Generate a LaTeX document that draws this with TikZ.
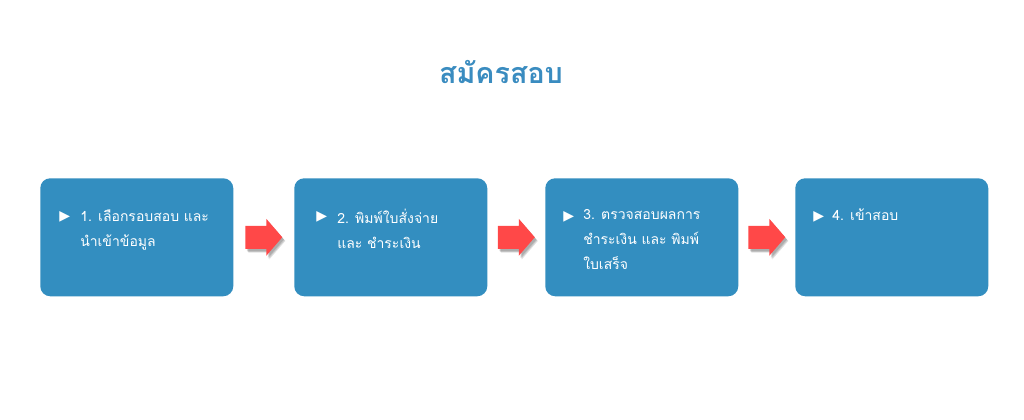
\documentclass[tikz,border=0pt]{standalone}
\usepackage{fontspec}
\newfontfamily\thai[Script=Thai]{Loma}
\newfontfamily\symb{DejaVu Sans}
\usetikzlibrary{calc}
\definecolor{boxblue}{HTML}{338EC0}
\definecolor{titleblue}{HTML}{3A8CC0}
\definecolor{arrred}{HTML}{FF4848}
\tikzset{
  stepbox/.style={fill=boxblue, rounded corners=7.5pt, minimum width=144.75pt, minimum height=88.5pt, inner sep=0pt, anchor=north west},
  bul/.style={text=white, font=\symb\fontsize{10.5pt}{12pt}\selectfont, inner sep=0pt, anchor=west},
  txt/.style={text=white, font=\thai\fontsize{10.5pt}{18.75pt}\selectfont, align=left, inner sep=0pt, anchor=north west},
  arrowshape/.style={fill=arrred},
  arrowshadow/.style={fill=black, opacity=0.12}
}
\newcommand{\blockarrow}[2]{%
  \foreach \dx/\dy in {1.5/2.25, 2.25/3, 3/3.75}{
    \fill[arrowshadow] ($(#1)+(\dx*0.75pt,-\dy*0.75pt)$) ++(-18.5*0.75pt,-11.5*0.75pt) -- ++(21*0.75pt,0) -- ++(0,-7*0.75pt) -- ++(16*0.75pt,18.5*0.75pt) -- ++(-16*0.75pt,18.5*0.75pt) -- ++(0,-7*0.75pt) -- ++(-21*0.75pt,0) -- cycle;
  }
  \fill[arrowshape] (#1) ++(-18.5*0.75pt,-11.5*0.75pt) -- ++(21*0.75pt,0) -- ++(0,-7*0.75pt) -- ++(16*0.75pt,18.5*0.75pt) -- ++(-16*0.75pt,18.5*0.75pt) -- ++(0,-7*0.75pt) -- ++(-21*0.75pt,0) -- cycle;
}
\begin{document}
\begin{tikzpicture}[x=0.75pt,y=-0.75pt]
\useasboundingbox (0,0) rectangle (1024,420);
\fill[white] (0,0) rectangle (1024,420);
\node[text=titleblue, font=\thai\bfseries\fontsize{21.5pt}{25pt}\selectfont, inner sep=0pt] (title) at (501,72) {สมัครสอบ};

\node[stepbox] (b1) at (40,178) {};
\node[stepbox] (b2) at (294,178) {};
\node[stepbox] (b3) at (545,178) {};
\node[stepbox] (b4) at (795,178) {};

\node[bul] (u1) at ($(b1.north west)+(19*0.75pt,-39*0.75pt)$) {▶};
\node[txt] (t1) at ($(b1.north west)+(40*0.75pt,-31*0.75pt)$) {1. เลือกรอบสอบ และ\\นำเข้าข้อมูล};
\node[bul] (u2) at ($(b2.north west)+(22*0.75pt,-39*0.75pt)$) {▶};
\node[txt] (t2) at ($(b2.north west)+(43*0.75pt,-31*0.75pt)$) {2. พิมพ์ใบสั่งจ่าย\\และ ชำระเงิน};
\node[bul] (u3) at ($(b3.north west)+(18*0.75pt,-39*0.75pt)$) {▶};
\node[txt] (t3) at ($(b3.north west)+(38*0.75pt,-31*0.75pt)$) {3. ตรวจสอบผลการ\\ชำระเงิน และ พิมพ์\\ใบเสร็จ};
\node[bul] (u4) at ($(b4.north west)+(18*0.75pt,-39*0.75pt)$) {▶};
\node[txt] (t4) at ($(b4.north west)+(37*0.75pt,-31*0.75pt)$) {4. เข้าสอบ};

\coordinate (a1) at ($(b1.east)!0.5!(b2.west)$);
\coordinate (a2) at ($(b2.east)!0.5!(b3.west)$);
\coordinate (a3) at ($(b3.east)!0.5!(b4.west)$);
\blockarrow{a1}{}
\blockarrow{a2}{}
\blockarrow{a3}{}
\end{tikzpicture}
\end{document}
